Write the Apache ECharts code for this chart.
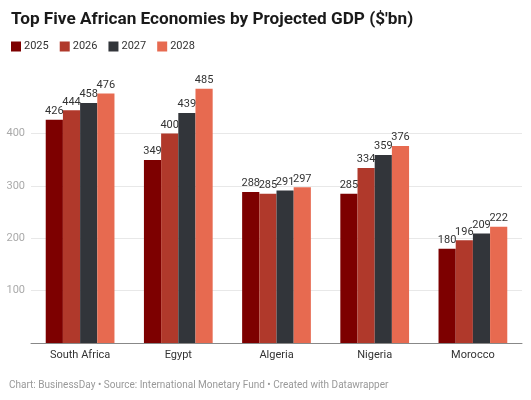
<!DOCTYPE html>
<html><head><meta charset="utf-8">
<script src="https://cdn.jsdelivr.net/npm/echarts@6/dist/echarts.min.js"></script>
<style>html,body{margin:0;padding:0;background:#fff;}#c{width:531px;height:400px;}</style>
</head><body><div id="c"></div>
<script>
const categories = ['South Africa','Egypt','Algeria','Nigeria','Morocco'];
const years = ['2025','2026','2027','2028'];
const v2025 = [426,349,288,285,180];
const v2026 = [444,400,285,334,196];
const v2027 = [458,439,291,359,209];
const v2028 = [476,485,297,376,222];
const yTicks = [0,100,200,300,400,500];
const colors = ['#7d0000','#b0392b','#32353a','#e76a50'];
const values = [v2025,v2026,v2027,v2028];

const chart = echarts.init(document.getElementById('c'));
chart.setOption({
  animation:false,
  color:colors,
  title:{text:"Top Five African Economies by Projected GDP ($'bn)",left:6,top:6,
    textStyle:{fontFamily:'Roboto',fontWeight:'bold',fontSize:17.2,color:'#1a1a1a'}},
  legend:{left:6,top:36,itemWidth:10,itemHeight:10,itemGap:11,icon:'rect',
    textStyle:{fontFamily:'Roboto',fontSize:11,color:'#333',padding:[0,0,0,-2]},
    data:years},
  grid:{left:31,right:9,top:81,bottom:57,containLabel:false},
  xAxis:{type:'category',data:categories,
    axisLine:{lineStyle:{color:'#888',width:1}},axisTick:{show:false},
    axisLabel:{fontFamily:'Roboto',fontSize:11,color:'#333',margin:7}},
  yAxis:{type:'value',min:yTicks[0],max:yTicks[yTicks.length-1],interval:100,
    axisLine:{show:false},axisTick:{show:false},
    axisLabel:{fontFamily:'Roboto',fontSize:11,color:'#aaa',margin:6,
      formatter:v=>(v===0||v===500)?'':String(v)},
    splitLine:{lineStyle:{color:['#e8e8e8','#e8e8e8','#e8e8e8','#e8e8e8','#e8e8e8','rgba(0,0,0,0)'],width:1}}},
  series:years.map((y,i)=>({
    name:y,type:'bar',data:values[i],barGap:'0%',barCategoryGap:'30%',
    label:{show:true,position:'top',distance:3,fontFamily:'Roboto',fontSize:11,color:'#333'}
  })),
  graphic:[{type:'text',left:9,top:380,style:{text:'Chart: BusinessDay • Source: International Monetary Fund • Created with Datawrapper',
    fontFamily:'Roboto',fontSize:10,fill:'#999'}}]
});
</script></body></html>
